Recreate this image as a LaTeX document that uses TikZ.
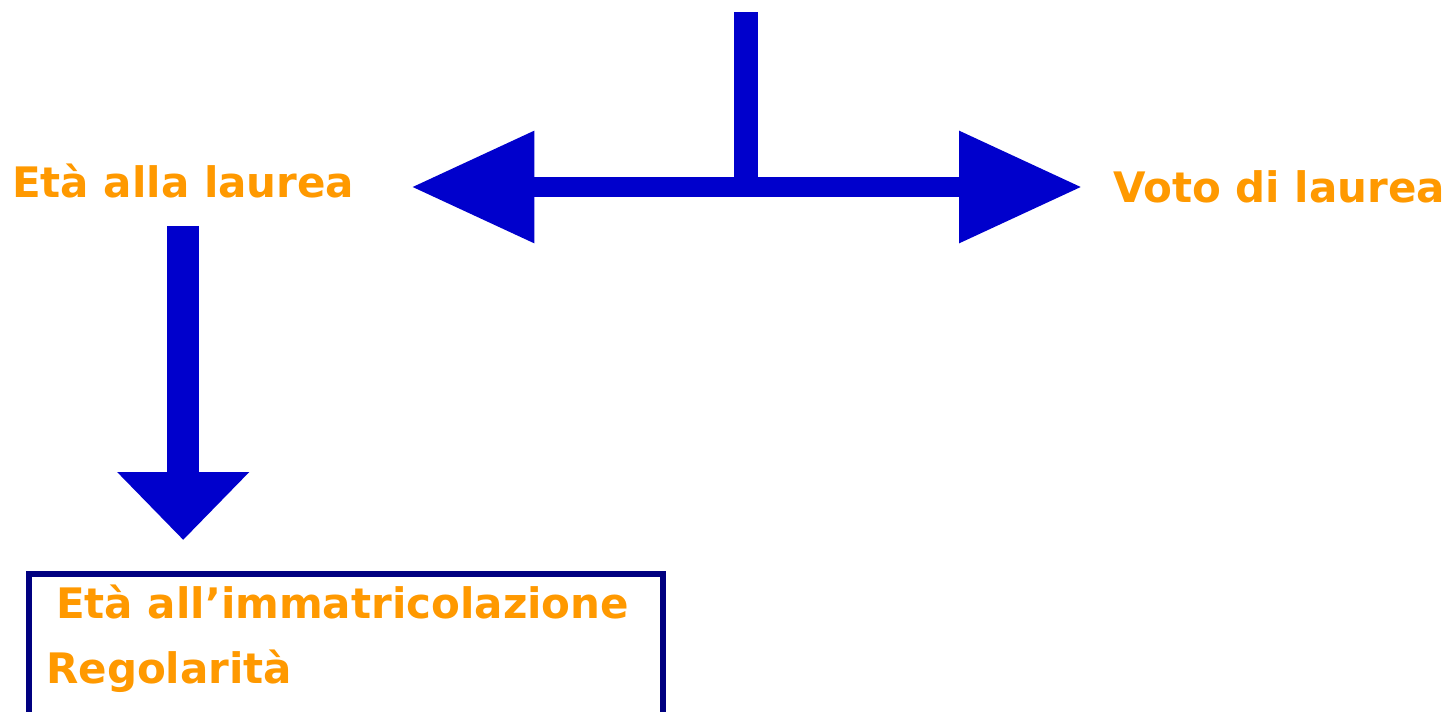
\documentclass[tikz,border=0pt]{standalone}
\usepackage{fontspec}
\setmainfont{DejaVu Sans}
\usetikzlibrary{arrows.meta,calc}
\definecolor{lblorange}{HTML}{FF9900}
\definecolor{arrblue}{HTML}{0000CC}
\definecolor{boxnavy}{HTML}{000080}
\begin{document}
\begin{tikzpicture}[x=1pt,y=-1pt,
  lbl/.style={text=lblorange, font=\fontsize{42}{50}\selectfont\bfseries, inner sep=0pt, anchor=base west},
  stemline/.style={draw=arrblue, line width=24pt},
  hbar/.style={draw=arrblue, line width=20pt, -{Triangle[length=123pt,width=107pt]}, arrblue},
  vbar/.style={draw=arrblue, line width=32pt, -{Triangle[length=68pt,width=128pt]}, arrblue},
  boxst/.style={draw=boxnavy, line width=6pt, fill=white, inner sep=0pt}]
\useasboundingbox (0,0) rectangle (1452,712);
\node[lbl] (etal) at (12,197) {Età alla laurea};
\node[lbl] (voto) at (1113,202) {Voto di laurea};
\node[boxst, anchor=north west, minimum width=634.3pt, minimum height=143pt] (box) at (25.7,571) {};
\node[lbl] (t1) at (56,618) {Età all’immatricolazione};
\node[lbl] (t2) at (46,683) {Regolarità};
\coordinate (top) at (746,12);
\coordinate (j) at (746,187);
\draw[stemline] (top) -- (j);
\draw[hbar] (j) -- ($(j -| etal.east)+(57,0)$);
\draw[hbar] (j) -- ($(j -| voto.west)+(-31,0)$);
\draw[vbar] ($(etal.south)+(0,28)$) -- ($(etal.south |- box.north)+(0,-31)$);
\end{tikzpicture}
\end{document}
